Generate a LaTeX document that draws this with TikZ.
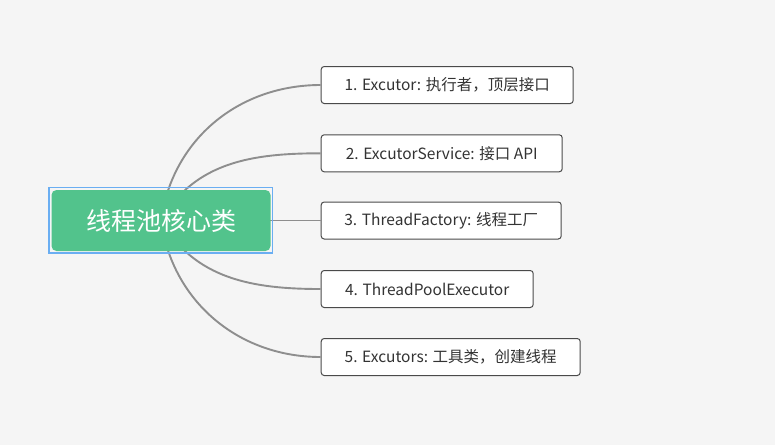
\documentclass[tikz,border=0pt]{standalone}
\usepackage{fontspec}
\setmainfont{Noto Sans CJK SC}
\usetikzlibrary{positioning}
\definecolor{bgcol}{HTML}{F5F5F5}
\definecolor{rootgreen}{HTML}{52C38C}
\definecolor{selblue}{HTML}{6AAEF2}
\definecolor{linegray}{HTML}{8E8E8E}
\definecolor{boxedge}{HTML}{4A4A4A}
\definecolor{textgray}{HTML}{333333}
\tikzset{
  topicbox/.style={draw=boxedge, line width=1pt, fill=white, rounded corners=3pt,
    minimum height=37pt, inner xsep=0pt, anchor=west, text=textgray,
    font=\fontsize{15.5}{18}\selectfont},
  rootbox/.style={fill=rootgreen, rounded corners=5pt, minimum width=219pt,
    minimum height=61pt, text=white, font=\fontsize{25}{30}\selectfont},
  branch/.style={draw=linegray, line width=1.9pt},
}
\begin{document}
\begin{tikzpicture}[x=1pt, y=-1pt]
\useasboundingbox[fill=bgcol] (0,0) rectangle (775,445); % canvas
\node[topicbox, minimum width=252pt] (t1) at (320.7,85) {1. Excutor: 执行者，顶层接口}; % topic 1
\node[topicbox, minimum width=241pt] (t2) at (320.7,153.3) {2. ExcutorService: 接口 API}; % topic 2
\node[topicbox, minimum width=240pt] (t3) at (320.7,220.5) {3. ThreadFactory: 线程工厂}; % topic 3
\node[topicbox, minimum width=212pt] (t4) at (320.7,289) {4. ThreadPoolExecutor}; % topic 4
\node[topicbox, minimum width=259pt] (t5) at (320.7,357) {5. Excutors: 工具类，创建线程}; % topic 5
\coordinate (hub) at (161,220.5); % root centre
\draw[branch] (hub) to[out=82,in=180] (t1.west); % topic 1
\draw[branch] (hub) to[out=60,in=180] (t2.west); % topic 2
\draw[branch] (hub) -- (t3.west); % topic 3
\draw[branch] (hub) to[out=-60,in=180] (t4.west); % topic 4
\draw[branch] (hub) to[out=-82,in=180] (t5.west); % topic 5
\node[rootbox] (root) at (hub) {线程池核心类}; % root
\draw[selblue, line width=1.5pt] ([xshift=-2.5pt,yshift=2.5pt]root.north west)
  rectangle ([xshift=2pt,yshift=-2pt]root.south east); % selection frame
\end{tikzpicture}
\end{document}
